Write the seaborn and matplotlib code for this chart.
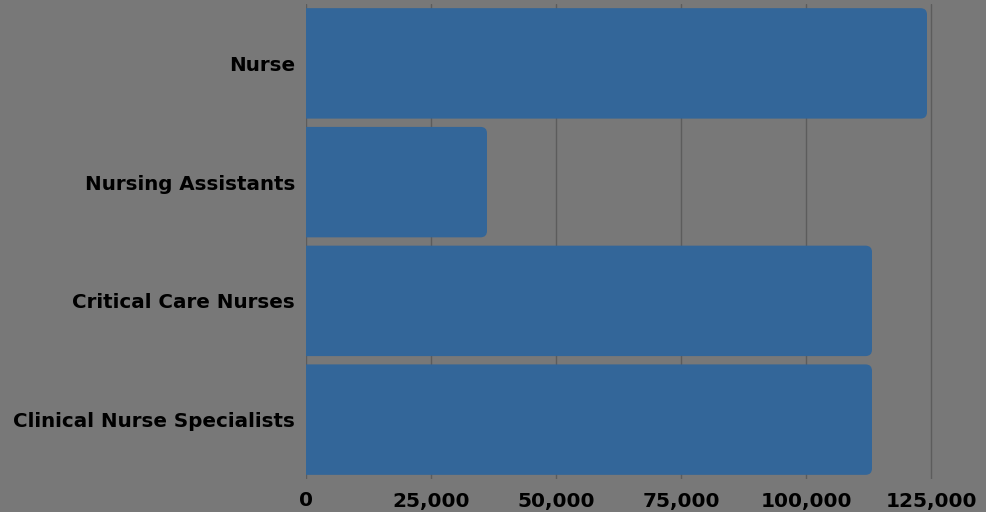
import matplotlib
matplotlib.use("Agg")
import matplotlib.pyplot as plt
import seaborn as sns
import pandas as pd
from matplotlib.patches import FancyBboxPatch
from matplotlib.ticker import FuncFormatter

categories = ["Nurse", "Nursing Assistants", "Critical Care Nurses", "Clinical Nurse Specialists"]
values = [124200, 36200, 113200, 113200]
x_ticks = [0, 25000, 50000, 75000, 100000, 125000]

df = pd.DataFrame({"category": categories, "value": values})

sns.set_theme(style="white")
plt.rcParams['font.family'] = ['DejaVu Sans']

bg = "#787878"
bar_color = "#336699"

fig = plt.figure(figsize=(9.86, 5.12), dpi=100, facecolor=bg)
ax = fig.add_axes([306/986, 33/512, 635/986, 475/512])
ax.set_facecolor(bg)

sns.barplot(data=df, x="value", y="category", color=bar_color, width=0.93,
            saturation=1, ax=ax, zorder=3)

ax.set_xlim(0, 127000)
ax.set_ylim(3.5, -0.5)

# Replace bars with right-rounded versions
r = 1300
aspect = 0.05 / 1200
for p in list(ax.patches):
    x0, y0 = p.get_x(), p.get_y()
    w, h = p.get_width(), p.get_height()
    fb = FancyBboxPatch((x0 - 3000, y0), w + 3000, h,
                        boxstyle=f"round,pad=0,rounding_size={r}",
                        mutation_aspect=aspect,
                        facecolor=bar_color, edgecolor="none", zorder=3)
    p.remove()
    ax.add_patch(fb)

ax.set_xticks(x_ticks)
ax.xaxis.set_major_formatter(FuncFormatter(lambda v, pos: f"{int(v):,}"))
ax.grid(axis="x", color="#5c5c5c", linewidth=1, zorder=0)
ax.grid(axis="y", visible=False)
for s in ax.spines.values():
    s.set_visible(False)

ax.set_xlabel("")
ax.set_ylabel("")
ax.tick_params(axis="x", length=0, pad=9, labelsize=14.5)
ax.tick_params(axis="y", length=0, pad=8, labelsize=14.3)
for lbl in ax.get_xticklabels() + ax.get_yticklabels():
    lbl.set_fontweight("bold")
    lbl.set_color("black")

fig.savefig("out.png", dpi=100, facecolor=bg)
